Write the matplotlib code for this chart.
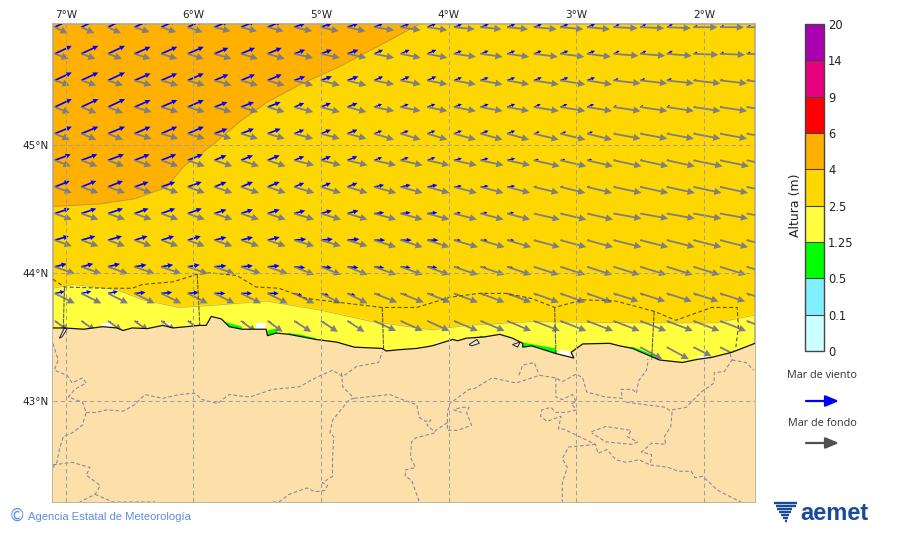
import numpy as np
import matplotlib
matplotlib.use('Agg')
import matplotlib.pyplot as plt
from matplotlib.cm import ScalarMappable
from matplotlib.colors import BoundaryNorm, ListedColormap

plt.rc('font', size=8, family='DejaVu Sans')

''' Map extent and ticks '''
lonMin, lonMax = -7.10, -1.60
latMin, latMax = 42.21, 45.945
lonTicks = [-7, -6, -5, -4, -3, -2]
latTicks = [43, 44, 45]

''' Colour scale '''
levels = [0, 0.1, 0.5, 1.25, 2.5, 4, 6, 9, 14, 20]
levelLabels = ['0', '0.1', '0.5', '1.25', '2.5', '4', '6', '9', '14', '20']
levelColors = ['#ccffff', '#80f0ff', '#00ff00', '#ffff40', '#ffd700',
               '#ffb000', '#ff0000', '#e6007e', '#a800b0']

''' Contours of wave height '''
orangeLon = [-7.10, -6.73, -6.46, -6.21, -6.08, -5.85, -5.64, -5.43, -5.17, -4.86, -4.50, -4.23]
orangeLat = [44.52, 44.54, 44.58, 44.67, 44.83, 45.00, 45.18, 45.33, 45.47, 45.61, 45.80, 45.945]
yellowLon = [-7.10, -6.945, -6.60, -6.40, -6.11, -5.80, -5.43, -5.01, -4.60, -4.13, -3.86, -3.35, -2.56, -1.91, -1.60]
yellowLat = [43.88, 43.91, 43.87, 43.79, 43.73, 43.75, 43.78, 43.71, 43.62, 43.555, 43.59, 43.62, 43.61, 43.61, 43.67]

''' Coast '''
coastLon = [-7.10, -7.01, -6.86, -6.71, -6.60, -6.55, -6.48, -6.36, -6.24, -6.16, -5.95, -5.90, -5.86, -5.78, -5.72, -5.62,
            -5.43, -5.42, -5.35, -5.25, -5.04, -4.88, -4.74, -4.52, -4.49, -4.39, -4.25, -4.13, -3.97, -3.93, -3.86, -3.72, -3.60,
            -3.50, -3.42, -3.42, -3.35, -3.16, -3.02, -3.04, -2.95, -2.74, -2.66, -2.56, -2.35, -2.17, -2.05, -1.94,
            -1.78, -1.60]
coastLat = [43.57, 43.57, 43.56, 43.58, 43.57, 43.55, 43.57, 43.565, 43.59, 43.57, 43.59, 43.59, 43.66, 43.64, 43.58, 43.56,
            43.56, 43.51, 43.53, 43.52, 43.48, 43.46, 43.42, 43.41, 43.39, 43.40, 43.41, 43.43, 43.48, 43.47, 43.49, 43.50, 43.52,
            43.49, 43.45, 43.42, 43.43, 43.37, 43.335, 43.38, 43.445, 43.45, 43.43, 43.41, 43.32, 43.30, 43.325, 43.34,
            43.38, 43.45]

greenPatches = [
    ([-5.76, -5.62, -5.62, -5.72], [43.62, 43.58, 43.55, 43.57]),
    ([-5.42, -5.33, -5.35, -5.42], [43.55, 43.57, 43.52, 43.51]),
    ([-5.26, -5.17, -5.04, -5.03, -5.25], [43.53, 43.52, 43.49, 43.47, 43.51]),
    ([-3.79, -3.75, -3.68, -3.74, -3.79], [43.48, 43.51, 43.49, 43.47, 43.46]),
    ([-3.45, -3.35, -3.16, -3.15, -3.35, -3.43], [43.46, 43.445, 43.41, 43.36, 43.41, 43.43]),
    ([-2.72, -2.55, -2.35, -2.35, -2.56], [43.43, 43.42, 43.34, 43.31, 43.41]),
]
whitePatches = [
    ([-6.72, -6.64, -6.64, -6.72], [43.61, 43.61, 43.57, 43.57]),
    ([-6.23, -6.17, -6.17, -6.23], [43.61, 43.61, 43.58, 43.58]),
    ([-5.51, -5.43, -5.43, -5.51], [43.61, 43.61, 43.56, 43.56]),
    ([-4.10, -4.02, -4.02, -4.10], [43.46, 43.46, 43.43, 43.43]),
    ([-3.13, -3.02, -3.03, -3.16], [43.40, 43.38, 43.34, 43.37]),
    ([-2.05, -1.96, -1.96, -2.05], [43.35, 43.35, 43.33, 43.33]),
]
estuaries = [
    ([-7.01, -7.05, -7.03, -6.99], [43.57, 43.49, 43.50, 43.56]),
    ([-3.84, -3.78, -3.76, -3.82], [43.44, 43.48, 43.45, 43.43]),
    ([-3.50, -3.44, -3.46], [43.44, 43.46, 43.42]),
]

''' Coastal zone limits at sea '''
zoneLon = [-7.10, -7.01, -6.68, -6.48, -6.40, -6.16, -5.97, -5.87, -5.66, -5.51, -5.33, -5.11, -4.86,
           -4.52, -4.39, -4.25, -3.99, -3.76, -3.55, -3.35, -3.17, -2.95, -2.69, -2.39, -2.22, -1.94,
           -1.74, -1.73, -1.75]
zoneLat = [43.95, 43.89, 43.88, 43.88, 43.91, 43.93, 43.99, 44.00, 43.98, 43.89, 43.88, 43.80, 43.77,
           43.73, 43.73, 43.73, 43.81, 43.84, 43.84, 43.80, 43.73, 43.79, 43.78, 43.70, 43.63, 43.73,
           43.73, 43.58, 43.42]
zoneCuts = [
    ([-7.01, -7.02], [43.89, 43.55]),
    ([-5.97, -5.95], [43.99, 43.59]),
    ([-4.52, -4.51], [43.73, 43.41]),
    ([-3.17, -3.16], [43.73, 43.37]),
    ([-2.39, -2.41], [43.70, 43.32]),
]

''' Province borders on land '''
borders = [
    ([-7.10, -7.06, -7.09, -6.99, -6.95, -6.87, -6.84, -6.93, -6.98, -6.87, -6.84, -6.87, -6.95, -7.02, -7.05, -7.07, -7.10],
     [43.45, 43.32, 43.24, 43.20, 43.14, 43.18, 43.14, 43.09, 43.03, 42.99, 42.91, 42.81, 42.75, 42.72, 42.62, 42.52, 42.48]),
    ([-6.84, -6.76, -6.68, -6.55, -6.46, -6.44, -6.38, -6.24, -6.11, -5.99, -5.93, -5.81, -5.72, -5.56, -5.38, -5.17, -5.08, -5.00, -4.91, -4.83, -4.72, -4.55, -4.52],
     [42.91, 42.91, 42.93, 42.92, 42.97, 42.99, 43.05, 43.02, 43.05, 43.06, 43.01, 42.98, 43.05, 43.03, 43.09, 43.11, 43.16, 43.20, 43.24, 43.19, 43.27, 43.30, 43.38]),
    ([-4.84, -4.83, -4.74], [43.22, 43.11, 43.02]),
    ([-4.74, -4.78, -4.86, -4.91, -4.93, -4.90, -4.91, -4.91, -4.99, -4.95, -4.97, -5.05, -5.11, -5.25, -5.33, -5.39],
     [43.02, 43.01, 42.91, 42.85, 42.75, 42.72, 42.54, 42.41, 42.36, 42.34, 42.30, 42.29, 42.32, 42.27, 42.21, 42.21]),
    ([-7.10, -6.95, -6.81, -6.84, -6.73, -6.77, -6.89], [42.50, 42.52, 42.48, 42.42, 42.34, 42.27, 42.21]),
    ([-6.77, -6.63, -6.30], [42.27, 42.21, 42.21]),
    ([-4.74, -4.46, -4.39, -4.25, -4.23, -4.18, -4.14, -4.17, -4.11, -4.10, -4.01, -4.01, -3.93, -3.82, -3.86, -3.84, -3.90, -3.96, -3.90],
     [43.02, 43.05, 43.02, 42.97, 42.87, 42.84, 42.85, 42.81, 42.76, 42.77, 42.83, 42.77, 42.77, 42.81, 42.91, 42.95, 42.95, 42.93, 42.91]),
    ([-4.11, -4.26, -4.29, -4.30, -4.26, -4.34, -4.34, -4.29, -4.23], [42.75, 42.71, 42.68, 42.56, 42.48, 42.46, 42.41, 42.38, 42.21]),
    ([-4.01, -4.01, -3.99, -3.84, -3.79, -3.66, -3.47, -3.29, -3.16, -3.11, -3.00, -2.95, -2.92, -2.77, -2.64, -2.65, -2.56, -2.53, -2.51, -2.45, -2.44, -2.44],
     [42.83, 42.91, 42.98, 43.09, 43.10, 43.18, 43.14, 43.20, 43.18, 43.15, 43.21, 43.18, 43.07, 43.03, 43.02, 43.09, 43.09, 43.06, 43.16, 43.24, 43.30, 43.33]),
    ([-3.45, -3.42, -3.33, -3.29], [43.20, 43.28, 43.30, 43.20]),
    ([-2.61, -2.30, -2.25, -2.26, -2.31, -2.30, -2.41, -2.49, -2.41, -2.42, -2.28, -2.20, -2.10, -2.07, -2.01, -1.89, -1.71],
     [42.99, 42.95, 42.91, 42.80, 42.72, 42.66, 42.67, 42.60, 42.58, 42.50, 42.48, 42.45, 42.45, 42.40, 42.41, 42.30, 42.21]),
    ([-2.25, -2.14, -2.02, -1.92, -1.92, -1.84, -1.78, -1.80], [42.93, 42.95, 43.07, 43.14, 43.22, 43.23, 43.32, 43.38]),
    ([-1.78, -1.67, -1.61], [43.32, 43.30, 43.24]),
    ([-3.16, -3.16, -3.11, -3.03, -3.00, -3.04, -3.00, -3.08, -3.16, -3.20, -3.27, -3.28, -3.23, -3.12, -3.14, -3.10, -2.85, -2.83, -2.76, -2.69, -2.61, -2.51, -2.42],
     [43.18, 43.03, 43.01, 43.05, 42.99, 42.98, 42.93, 42.91, 42.91, 42.95, 42.93, 42.88, 42.84, 42.88, 42.78, 42.78, 42.66, 42.59, 42.62, 42.54, 42.52, 42.54, 42.50]),
    ([-2.85, -3.06, -3.11, -3.07, -3.11, -3.11], [42.66, 42.64, 42.55, 42.48, 42.36, 42.21]),
    ([-2.88, -2.77, -2.57, -2.60, -2.52, -2.56, -2.77, -2.88], [42.76, 42.80, 42.77, 42.72, 42.68, 42.66, 42.68, 42.75]),
]

''' Arrow grid: one row per latitude, one entry per block of three longitudes (length in pixels) '''
gridLon = [-7.086, -6.878, -6.669, -6.461, -6.252, -6.044, -5.835, -5.627, -5.418, -5.210, -5.001, -4.793, -4.584,
           -4.376, -4.167, -3.959, -3.750, -3.542, -3.333, -3.125, -2.916, -2.708, -2.499, -2.291, -2.082, -1.874, -1.665]
gridLat = [45.92, 45.712, 45.504, 45.296, 45.088, 44.88, 44.672, 44.464, 44.256, 44.048, 43.84, 43.625, 43.42]

windU = [[16, 15, 14, 11, 9, 8, 8, 6, 4],
         [17, 16, 14, 11, 9, 8, 8, 6, 4],
         [17, 16, 14, 11, 9, 8, 8, 5, 3],
         [17, 16, 13, 10, 8, 8, 7, 3, 2],
         [17, 16, 13, 10, 8, 8, 6, 2, 2],
         [16, 15, 12, 10, 8, 8, 5, 2, 3],
         [15, 14, 12, 10, 10, 8, 3, 2, 2],
         [15, 14, 12, 11, 10, 7, 3, 3, 3],
         [14, 13, 12, 12, 11, 7, 3, 3, 3],
         [12, 12, 12, 11, 10, 6, 3, 3, 3],
         [10, 11, 11, 8, 7, 5, 3, 3, 3],
         [3, 4, 4, 4, 4, 4, 3, 3, 3],
         [np.nan, np.nan, np.nan, np.nan, np.nan, np.nan, np.nan, 3, 3]]
windV = [[8, 7, 6, 4, 4, 3, 3, 3, 2],
         [8, 7, 6, 4, 4, 3, 3, 3, 2],
         [8, 7, 6, 4, 4, 3, 3, 2, 1],
         [8, 7, 5, 4, 3, 3, 3, 2, 1],
         [7, 7, 5, 4, 3, 3, 2, 1, 1],
         [6, 6, 5, 4, 3, 2, 1, 1, 0],
         [6, 5, 5, 4, 2, 1, 1, 1, 0],
         [5, 5, 4, 3, 1, 1, 0, 0, 0],
         [4, 4, 3, 1, 0, 0, 0, 0, 0],
         [3, 2, 1, -1, -1, -1, -1, -1, -1],
         [2, 1, 0, -2, -2, -2, -2, -2, -2],
         [-1, -1, -2, -2, -2, -2, -2, -2, -2],
         [np.nan, np.nan, np.nan, np.nan, np.nan, np.nan, np.nan, -2, -2]]
swellU = [[13, 15, 16, 18, 20, 21, 23, 24, 24],
          [14, 16, 17, 19, 20, 22, 24, 25, 25],
          [15, 17, 17, 19, 20, 22, 25, 27, 27],
          [15, 17, 17, 19, 20, 22, 25, 27, 27],
          [15, 17, 17, 19, 20, 22, 25, 27, 27],
          [16, 17, 18, 20, 22, 23, 26, 28, 29],
          [17, 17, 18, 20, 22, 23, 25, 28, 28],
          [17, 17, 18, 20, 22, 23, 26, 28, 28],
          [17, 17, 18, 20, 22, 24, 26, 28, 28],
          [20, 20, 20, 20, 22, 24, 25, 26, 26],
          [20, 20, 20, 20, 23, 24, 25, 25, 25],
          [14, 14, 15, 17, 22, 24, 26, 26, 26],
          [np.nan, np.nan, np.nan, np.nan, np.nan, np.nan, np.nan, 22, 18]]
swellV = [[-6, -5, -4, -4, -3, -2, -2, -1, 0],
          [-5, -5, -5, -4, -4, -3, -3, -2, -1],
          [-5, -5, -5, -5, -4, -4, -4, -3, -3],
          [-6, -5, -5, -5, -4, -4, -4, -4, -4],
          [-6, -5, -5, -5, -6, -6, -6, -5, -5],
          [-6, -6, -6, -5, -5, -5, -6, -6, -6],
          [-6, -6, -6, -6, -6, -6, -6, -6, -6],
          [-6, -6, -6, -6, -6, -6, -6, -5, -5],
          [-6, -6, -6, -6, -7, -7, -7, -7, -7],
          [-7, -7, -7, -8, -8, -8, -8, -8, -8],
          [-10, -10, -10, -10, -9, -9, -9, -8, -8],
          [-10, -10, -11, -11, -10, -10, -10, -10, -10],
          [np.nan, np.nan, np.nan, np.nan, np.nan, np.nan, np.nan, -12, -9]]

''' Logo strokes '''
logoY = [503, 506, 509, 512, 515, 518, 521]
logoX0 = [774, 776, 777, 779, 781, 783, 785]
logoX1 = [797, 796, 792, 791, 789, 788, 787]

fig = plt.figure(figsize=(9, 5.33), dpi=100)
ax = fig.add_axes([53 / 900, 1 - 502 / 533, 702 / 900, 478 / 533])
ax.set_xlim(lonMin, lonMax)
ax.set_ylim(latMin, latMax)
ax.set_facecolor(levelColors[4])

''' Height areas '''
ax.fill(orangeLon + [lonMin], orangeLat + [latMax], color=levelColors[5], zorder=1)
ax.plot(orangeLon, orangeLat, color='#b09a50', lw=0.6, zorder=1.1)
ax.fill(yellowLon + [lonMax, lonMin], yellowLat + [latMin, latMin], color=levelColors[3], zorder=1.2)
ax.plot(yellowLon, yellowLat, color='#c8b040', lw=0.6, zorder=1.3)
for pLon, pLat in whitePatches:
    ax.fill(pLon, pLat, color='white', lw=0, zorder=1.5)
for pLon, pLat in greenPatches:
    ax.fill(pLon, pLat, color=levelColors[2], lw=0, zorder=1.6)

''' Arrows '''
xGrid, yGrid = np.meshgrid(gridLon, gridLat)
arrowOpts = dict(angles='uv', units='dots', scale_units='dots', scale=1, pivot='tail')
ax.quiver(xGrid, yGrid, np.repeat(windU, 3, axis=1), np.repeat(windV, 3, axis=1), color='#0000ff', width=1.7,
          headwidth=3.0, headlength=3.2, headaxislength=3.0, minshaft=2.2, minlength=0.5, zorder=3, **arrowOpts)
ax.quiver(xGrid, yGrid, np.repeat(swellU, 3, axis=1), np.repeat(swellV, 3, axis=1), color='#7f7f7f', width=1.8,
          headwidth=4.0, headlength=4.0, headaxislength=4.0, minlength=0.5, zorder=3.1, **arrowOpts)

''' Land '''
ax.fill(coastLon + [lonMax, lonMin], coastLat + [latMin, latMin], color='#fddfa9', lw=0, zorder=4)
for pLon, pLat in estuaries:
    ax.fill(pLon, pLat, facecolor='#e8e8e8', edgecolor='#222222', lw=0.7, zorder=4.1)
for bLon, bLat in borders:
    ax.plot(bLon, bLat, color='#8585a0', lw=0.75, dashes=(3.5, 2.2), zorder=4.2)
ax.plot(zoneLon, zoneLat, color='#5a5028', lw=0.8, dashes=(3.5, 2.2), zorder=4.3)
for cLon, cLat in zoneCuts:
    ax.plot(cLon, cLat, color='#5a5a4a', lw=0.8, dashes=(4, 0.8), zorder=4.3)
ax.plot(coastLon, coastLat, color='#111111', lw=0.9, zorder=4.5)

''' Grid and ticks '''
for lon in lonTicks:
    ax.axvline(lon, color='#a0a0a0', lw=0.75, dashes=(4, 3), zorder=5)
for lat in latTicks:
    ax.axhline(lat, color='#a0a0a0', lw=0.75, dashes=(4, 3), zorder=5)
ax.xaxis.tick_top()
ax.set_xticks(lonTicks, ['%d°W' % abs(lon) for lon in lonTicks])
ax.set_yticks(latTicks, ['%d°N' % lat for lat in latTicks])
ax.tick_params(length=0, labelsize=7.5, pad=3, colors='#222222')
for spine in ax.spines.values():
    spine.set_color('#b5aa8c')
    spine.set_linewidth(1.2)

''' Colour bar '''
cax = fig.add_axes([805 / 900, 1 - 351 / 533, 19 / 900, 327 / 533])
norm = BoundaryNorm(levels, len(levelColors))
cbar = fig.colorbar(ScalarMappable(norm=norm, cmap=ListedColormap(levelColors)), cax=cax,
                    spacing='uniform', ticks=levels, drawedges=True)
cbar.ax.set_yticklabels(levelLabels)
cbar.ax.tick_params(length=0, labelsize=8.3, pad=3, colors='#222222')
cbar.outline.set_edgecolor('#444444')
cbar.outline.set_linewidth(1.0)
cbar.dividers.set_color('#444444')
cbar.dividers.set_linewidth(0.8)
fig.text(795 / 900, 1 - 205 / 533, 'Altura (m)', rotation=90, ha='center', va='center', fontsize=9, color='#222222')

''' Overlay in figure pixels: legend, footer and logo '''
over = fig.add_axes([0, 0, 1, 1], facecolor='none')
over.set_xlim(0, 900)
over.set_ylim(533, 0)
over.axis('off')
over.text(822, 375, 'Mar de viento', ha='center', va='center', fontsize=7.8, family='Open Sans', color='#333333')
over.text(822, 423, 'Mar de fondo', ha='center', va='center', fontsize=7.8, family='Open Sans', color='#333333')
over.annotate('', xy=(839, 401), xytext=(806, 401),
              arrowprops=dict(arrowstyle='-|>,head_width=0.42,head_length=1.0', color='#0000ee', lw=1.6, shrinkA=0, shrinkB=0))
over.annotate('', xy=(839, 443), xytext=(806, 443),
              arrowprops=dict(arrowstyle='-|>,head_width=0.42,head_length=1.0', color='#505050', lw=1.6, shrinkA=0, shrinkB=0))
over.text(17, 516, '©', ha='center', va='center', fontsize=12, color='#5b8fe0')
over.text(28, 516.5, 'Agencia Estatal de Meteorología', ha='left', va='center', fontsize=8.1,
          family='Liberation Sans', color='#5b8fe0')
over.hlines(logoY, logoX0, logoX1, color='#1a4b9b', lw=1.7)
over.text(800, 513, 'aemet', ha='left', va='center', fontsize=17, family='Liberation Sans', weight='bold', color='#1a4b9b')

fig.savefig('out.png', dpi=100)
